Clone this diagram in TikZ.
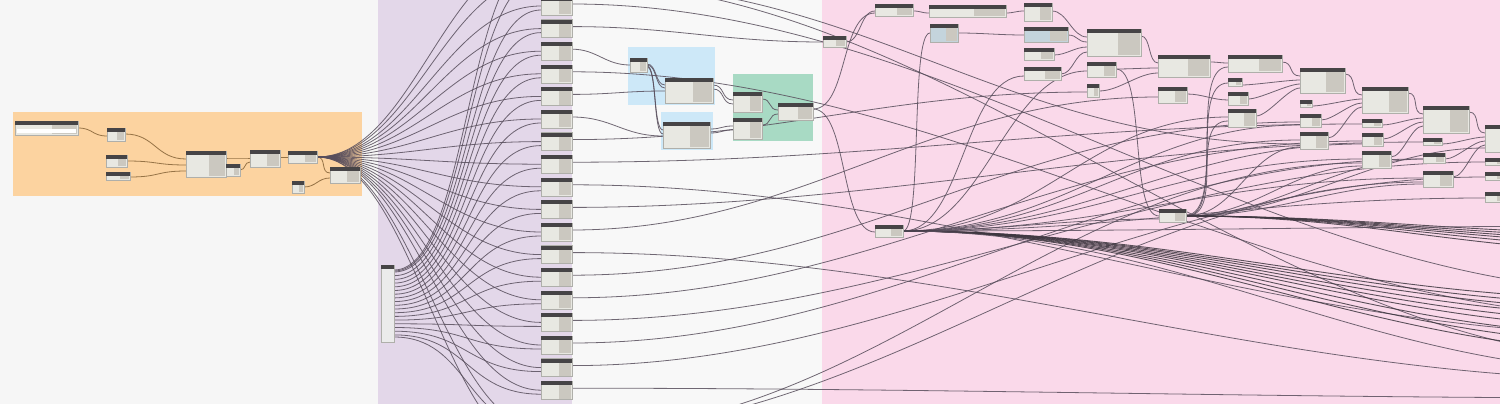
\documentclass[tikz,border=0pt]{standalone}
\usetikzlibrary{calc}
\definecolor{bgc}{RGB}{246,246,246}
\definecolor{orangeg}{RGB}{252,211,160}
\definecolor{purpleg}{RGB}{227,215,233}
\definecolor{pinkg}{RGB}{250,217,234}
\definecolor{blueg}{RGB}{205,232,248}
\definecolor{greeng}{RGB}{168,218,196}
\definecolor{whiteg}{RGB}{248,248,248}
\definecolor{hdr}{RGB}{70,68,70}
\definecolor{bodyc}{RGB}{232,232,226}
\definecolor{panelc}{RGB}{203,200,192}
\definecolor{edgec}{RGB}{175,175,170}
\definecolor{wirec}{RGB}{88,78,92}
\definecolor{wireo}{RGB}{150,115,70}
\definecolor{bluebody}{RGB}{196,212,220}
\pgfdeclarelayer{bg}\pgfdeclarelayer{wires}\pgfsetlayers{bg,wires,main}
\tikzset{
 dynbox/.style={draw=edgec, line width=0.3pt, fill=bodyc, inner sep=0pt, outer sep=0pt, rectangle},
 wire/.style={draw=wirec, line width=0.8pt, opacity=0.85},
 owire/.style={draw=wireo, line width=0.8pt},
 bundle/.style={draw=wirec!70!black, line width=0.9pt, opacity=0.85},
 dw/.style={to path={.. controls +(#1,0) and +(-#1,0) .. (\tikztotarget)}},
 dw/.default=40,
}
\newcommand\dynnode[6][bodyc]{%
  \node[dynbox, fill=#1, minimum width=#5pt, minimum height=#6pt, anchor=north west] (#2) at (#3,#4) {};
  \fill[panelc] ([xshift=-0.42*#5pt, yshift=-4pt]#2.north east) rectangle ([yshift=0.6pt, xshift=-0.6pt]#2.south east);
  \fill[hdr] (#2.north west) rectangle ([yshift=-4pt]#2.north east);
}
\begin{document}
\begin{tikzpicture}[x=1pt,y=-1pt]
\useasboundingbox (0,0) rectangle (1500,404);
\begin{pgfonlayer}{bg}
 \clip (0,0) rectangle (1500,404);
 \fill[bgc] (0,0) rectangle (1500,404);
 \fill[orangeg] (13,112) rectangle (362,196);
 \fill[purpleg] (378,0) rectangle (572,404);
 \fill[whiteg] (572,0) rectangle (822,404);
 \fill[pinkg] (822,0) rectangle (1500,404);
 \fill[blueg] (628,47) rectangle (715,105);
 \fill[blueg] (661,112) rectangle (713,150);
 \fill[greeng] (733,74) rectangle (813,141);
\end{pgfonlayer}
% ---------- nodes: orange group
\dynnode{A}{15}{121}{63}{14}
\fill[white] ([xshift=2pt,yshift=-8pt]A.north west) rectangle ([xshift=-2pt,yshift=2pt]A.south east);
\dynnode{B}{107}{128}{18}{13}
\dynnode{C}{106}{155}{21}{12}
\dynnode{D}{106}{172}{24}{8}
\dynnode{E}{186}{151}{40}{26}
\dynnode{F}{226}{164}{14}{12}
\dynnode{G}{250}{150}{30}{17}
\dynnode{H}{288}{151}{29}{12}
\dynnode{I}{330}{167}{30}{16}
\dynnode{J}{292}{181}{12}{12}
% watch node
\node[dynbox, fill=black!8, minimum width=13pt, minimum height=77pt, anchor=north west] (WA) at (381,265) {};
\fill[hdr] (WA.north west) rectangle ([yshift=-4pt]WA.north east);
% column
\foreach \i in {0,...,17}{
  \pgfmathsetmacro\cy{-3+22.6*\i}
  \dynnode{c\i}{541}{\cy}{31}{18}
}
% blue / green groups
\dynnode{K}{630}{58}{17}{14}
\dynnode{L}{665}{78}{48}{25}
\dynnode{M}{663}{122}{47}{26}
\dynnode{N}{733}{92}{29}{20}
\dynnode{O}{733}{118}{29}{21}
\dynnode{P}{778}{103}{35}{17}
% pink region
\dynnode{AA}{823}{36}{23}{11}
\dynnode{Q}{875}{4}{38}{12}
\dynnode{R}{929}{5}{77}{12}
\dynnode{S}{1024}{3}{28}{18}
\dynnode[bluebody]{T}{930}{24}{28}{18}
\dynnode[bluebody]{U}{1024}{27}{44}{15}
\dynnode{V}{1024}{48}{30}{12}
\dynnode{W}{1024}{67}{37}{13}
\dynnode{X}{1087}{29}{54}{27}
\dynnode{Y}{1087}{62}{29}{15}
\dynnode{Z}{1087}{84}{12}{13}
\dynnode{BB}{875}{225}{28}{12}
\dynnode{CC}{1159}{209}{27}{13}
\dynnode{n1}{1158}{55}{52}{22}
\dynnode{n2}{1228}{55}{54}{17}
\dynnode{n3}{1158}{87}{29}{16}
\dynnode{n4}{1228}{78}{14}{8}
\dynnode{n5}{1228}{92}{20}{13}
\dynnode{n6}{1228}{109}{28}{18}
\dynnode{n7}{1300}{68}{45}{25}
\dynnode{n8}{1300}{100}{12}{7}
\dynnode{n9}{1300}{114}{21}{13}
\dynnode{n10}{1300}{132}{28}{17}
\dynnode{n11}{1362}{87}{46}{26}
\dynnode{n12}{1362}{119}{20}{8}
\dynnode{n13}{1362}{133}{21}{13}
\dynnode{n14}{1362}{151}{29}{17}
\dynnode{n15}{1423}{106}{46}{27}
\dynnode{n16}{1423}{138}{19}{7}
\dynnode{n17}{1423}{153}{22}{10}
\dynnode{n18}{1423}{171}{30}{16}
\dynnode{n19}{1485}{125}{30}{27}
\dynnode{n20}{1485}{158}{20}{7}
\dynnode{n21}{1485}{172}{20}{8}
\dynnode{n22}{1485}{192}{20}{10}
% off-canvas ends
\coordinate (ct1) at (541,-22);
\coordinate (ct2) at (541,-45);
\coordinate (cb1) at (541,428);
\coordinate (cb2) at (541,452);
\coordinate (ct1o) at (572,-18);
\coordinate (cb1o) at (572,432);
\coordinate (r1) at (1650,292);
\coordinate (r2) at (1650,360);
\coordinate (r3) at (1650,318);
\coordinate (r4) at (1650,372);
\coordinate (r5) at (1650,335);
\coordinate (r6) at (1650,380);
\coordinate (r7) at (1650,398);
\coordinate (r8) at (1650,226);
% ---------- wires
\begin{pgfonlayer}{wires}
\clip (0,0) rectangle (1500,404);
% orange
\draw[owire] ([yshift=-7pt]A.north east) to[dw=15] ([yshift=-8pt]B.north west);
\draw[owire] ([yshift=-6pt]B.north east) to[dw=30] ([yshift=-8pt]E.north west);
\draw[owire] ([yshift=-6pt]C.north east) to[dw=30] ([yshift=-14pt]E.north west);
\draw[owire] ([yshift=-5pt]D.north east) to[dw=30] ([yshift=-20pt]E.north west);
\draw[owire] ([yshift=-7pt]E.north east) to[dw=10] ([yshift=-8pt]G.north west);
\draw[owire] ([yshift=-6pt]F.north east) to[dw=6] ([yshift=-12pt]G.north west);
\draw[owire] ([yshift=-7pt]G.north east) to[dw=4] ([yshift=-6pt]H.north west);
\draw[owire] (H.east) to[dw=10] ([yshift=-6pt]I.north west);
\draw[owire] ([yshift=-6pt]J.north east) to[dw=12] ([yshift=-11pt]I.north west);
% fan from H
\foreach \i in {0,...,17}
  \draw[wire] (H.east) to[dw=95] ([yshift=-9pt]c\i.north west);
\foreach \t in {ct1,ct2,cb1,cb2}
  \draw[wire] (H.east) to[dw=95] (\t);
% from watch
\foreach \i in {0,...,17}{
  \pgfmathsetmacro\wy{-(7+3.7*\i)}
  \draw[wire] ([yshift=\wy pt]WA.north east) to[dw=75] ([yshift=-13pt]c\i.north west);
}
\draw[wire] ([yshift=-6pt]WA.north east) to[dw=75] (ct1);
\draw[wire] ([yshift=-5pt]WA.north east) to[dw=75] (ct2);
\draw[wire] ([yshift=-72pt]WA.north east) to[dw=75] (cb1);
% column outputs
\foreach \i/\t/\o/\d in {1/AA/6/100, 2/K/7/25, 4/L/13/40, 5/M/14/40, 6/Z/8/200, 7/n12/5/300, 9/n16/4/300, 10/n3/10/230, 12/n9/8/290, 13/n13/8/300, 14/n20/4/330, 15/n17/6/320, 16/n21/5/330}
  \draw[wire] ([yshift=-7pt]c\i.north east) to[dw=\d] ([yshift=-\o pt]\t.north west);
\foreach \i/\t in {0/r1, 3/r3, 8/r5, 11/r6, 17/r7}
  \draw[wire] ([yshift=-7pt]c\i.north east) to[dw=380] (\t);
\draw[wire] (ct1o) to[dw=380] (r2);
\draw[wire] (ct1o) to[dw=300] ([yshift=-12pt]n10.north west);
\draw[wire] (cb1o) to[dw=300] ([yshift=-12pt]n14.north west);
\draw[wire] (cb1o) to[dw=300] ([yshift=-11pt]n18.north west);
% blue / green
\draw[wire] ([yshift=-6pt]K.north east) to[dw=10] ([yshift=-7pt]L.north west);
\draw[wire] ([yshift=-7pt]K.north east) to[dw=10] ([yshift=-10pt]L.north west);
\draw[wire] ([yshift=-8pt]K.north east) to[dw=10] ([yshift=-8pt]M.north west);
\draw[wire] ([yshift=-9pt]K.north east) to[dw=10] ([yshift=-12pt]M.north west);
\draw[wire] ([yshift=-7pt]L.north east) to[dw=12] ([yshift=-8pt]N.north west);
\draw[wire] ([yshift=-11pt]L.north east) to[dw=12] ([yshift=-12pt]N.north west);
\draw[wire] ([yshift=-7pt]M.north east) to[dw=12] ([yshift=-8pt]O.north west);
\draw[wire] ([yshift=-11pt]M.north east) to[dw=12] ([yshift=-12pt]O.north west);
\draw[wire] ([yshift=-7pt]N.north east) to[dw=10] ([yshift=-7pt]P.north west);
\draw[wire] ([yshift=-7pt]O.north east) to[dw=10] ([yshift=-11pt]P.north west);
% pink chain
\draw[wire] ([yshift=-6pt]P.north east) to[dw=35] ([yshift=-9pt]Q.north west);
\draw[wire] ([yshift=-6pt]P.north east) to[dw=35] ([yshift=-7pt]BB.north west);
\draw[wire] ([yshift=-6pt]AA.north east) to[dw=15] ([yshift=-7pt]Q.north west);
\draw[wire] ([yshift=-7pt]Q.north east) to[dw=8] ([yshift=-8pt]R.north west);
\draw[wire] ([yshift=-8pt]R.north east) to[dw=8] ([yshift=-8pt]S.north west);
\draw[wire] ([yshift=-8pt]S.north east) to[dw=15] ([yshift=-8pt]X.north west);
\draw[wire] ([yshift=-6pt]BB.north east) to[dw=20] ([yshift=-9pt]T.north west);
\draw[wire] ([yshift=-9pt]T.north east) to[dw=25] ([yshift=-8pt]U.north west);
\draw[wire] ([yshift=-8pt]U.north east) to[dw=10] ([yshift=-13pt]X.north west);
\draw[wire] ([yshift=-7pt]V.north east) to[dw=12] ([yshift=-18pt]X.north west);
\draw[wire] ([yshift=-7pt]W.north east) to[dw=12] ([yshift=-23pt]X.north west);
\draw[wire] ([yshift=-7pt]X.north east) to[dw=10] ([yshift=-8pt]n1.north west);
\draw[wire] ([yshift=-7pt]Y.north east) to[dw=15] ([yshift=-13pt]n1.north west);
\draw[wire] ([yshift=-7pt]Z.north east) to[dw=20] ([yshift=-18pt]n1.north west);
\draw[wire] ([yshift=-6pt]BB.north east) to[dw=60] ([yshift=-9pt]W.north west);
\draw[wire] ([yshift=-6pt]BB.north east) to[dw=80] ([yshift=-9pt]Y.north west);
\draw[wire] ([yshift=-7pt]n1.north east) to[dw=8] ([yshift=-8pt]n2.north west);
\draw[wire] ([yshift=-7pt]n3.north east) to[dw=15] ([yshift=-8pt]n5.north west);
\draw[wire] ([yshift=-6pt]CC.north east) to[dw=40] ([yshift=-12pt]n2.north west);
\draw[wire] ([yshift=-7pt]CC.north east) to[dw=40] ([yshift=-5pt]n4.north west);
\draw[wire] ([yshift=-7pt]CC.north east) to[dw=40] ([yshift=-12pt]n6.north west);
\draw[wire] ([yshift=-7pt]Y.north east) to[dw=30] ([yshift=-7pt]CC.north west);
\draw[wire] ([yshift=-6pt]BB.north east) to[dw=100] ([yshift=-10pt]CC.north west);
\foreach \s/\o in {n2/8, n4/12, n5/16, n6/20}
  \draw[wire] ([yshift=-7pt]\s.north east) to[dw=12] ([yshift=-\o pt]n7.north west);
\foreach \s/\o in {n7/8, n8/12, n9/16, n10/20}
  \draw[wire] ([yshift=-6pt]\s.north east) to[dw=12] ([yshift=-\o pt]n11.north west);
\foreach \s/\o in {n11/8, n12/12, n13/16, n14/20}
  \draw[wire] ([yshift=-6pt]\s.north east) to[dw=12] ([yshift=-\o pt]n15.north west);
\foreach \s/\o in {n15/8, n16/12, n17/16, n18/20}
  \draw[wire] ([yshift=-6pt]\s.north east) to[dw=12] ([yshift=-\o pt]n19.north west);
\foreach \t/\o/\d in {n6/8/140, n10/8/170, n14/8/190, n18/7/210, n22/6/230, n9/11/160, n13/11/180}
  \draw[wire] ([yshift=-6pt]BB.north east) to[dw=\d] ([yshift=-\o pt]\t.north west);
\foreach \t/\o/\d in {n10/15/50, n14/15/70, n17/6/90, n18/13/90, n19/23/110}
  \draw[wire] ([yshift=-7pt]CC.north east) to[dw=\d] ([yshift=-\o pt]\t.north west);
% bundles
\foreach \y in {300,305,310,316,322,328,336,344,352}
  \draw[bundle] ([yshift=-6pt]BB.north east) to[dw=280] (1650,\y);
\foreach \y in {234,237,240,243,247,252}
  \draw[bundle] ([yshift=-7pt]CC.north east) to[dw=180] (1650,\y);
\draw[wire] ([yshift=-6pt]BB.north east) to[dw=280] (r8);
\draw[wire] ([yshift=-6pt]BB.north east) to[dw=280] (r4);
\end{pgfonlayer}
\end{tikzpicture}
\end{document}
